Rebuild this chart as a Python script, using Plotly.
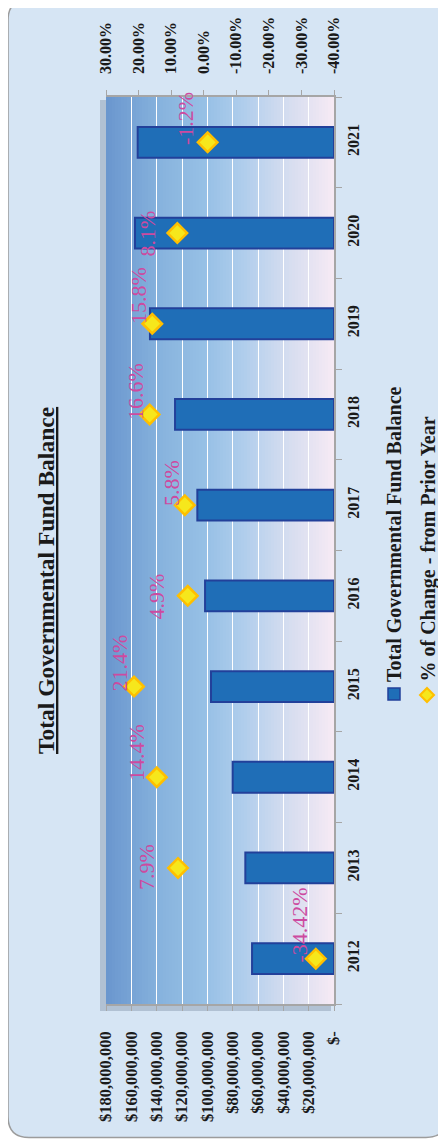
import plotly.graph_objects as go

# ---------------- data ----------------
years = [2012, 2013, 2014, 2015, 2016, 2017, 2018, 2019, 2020, 2021]
fund_balance = [64.7e6, 70.0e6, 80.0e6, 97.1e6, 101.8e6, 107.9e6, 125.5e6, 145.3e6, 157.1e6, 155.0e6]
pct_change = [-34.42, 7.9, 14.4, 21.4, 4.9, 5.8, 16.6, 15.8, 8.1, -1.2]
pct_labels = ["-34.42%", "7.9%", "14.4%", "21.4%", "4.9%", "5.8%", "16.6%", "15.8%", "8.1%", "-1.2%"]

dollar_ticks = [0, 20e6, 40e6, 60e6, 80e6, 100e6, 120e6, 140e6, 160e6, 180e6]
dollar_ticktext = ["$-", "$20,000,000", "$40,000,000", "$60,000,000", "$80,000,000",
                   "$100,000,000", "$120,000,000", "$140,000,000", "$160,000,000", "$180,000,000"]
pct_ticks = [30, 20, 10, 0, -10, -20, -30, -40]
pct_ticktext = ["30.00%", "20.00%", "10.00%", "0.00%", "-10.00%", "-20.00%", "-30.00%", "-40.00%"]

title_text = "Total Governmental Fund Balance"
legend_bar = "Total Governmental Fund Balance"
legend_pct = "% of Change - from Prior Year"

# label offsets (pixels) relative to each marker: (dx right, dy down)
label_offsets = [(-16, -34), (-31, -1), (-21, -25), (-14, -23), (-31, 1),
                 (-14, -22), (-14, -23), (-14, -28), (-30, 0), (-22, -24)]

# ---------------- geometry / style ----------------
W, H = 446, 1142
# page body adds 8px offset; plot area on screen spans x 106..334, y 97..1004
L, T = 98, 89
PW, PH = 228, 907
R, B = W - L - PW, H - T - PH
FONT = "Liberation Serif"
PINK = "#cd4aa0"


def px(sx):
    return (sx - 106) / PW


def py(sy):
    return (1004 - sy) / PH


fig = go.Figure()

fig.add_trace(go.Bar(
    x=fund_balance, y=years, orientation="h", width=0.34,
    marker=dict(color="#1f6eb7", line=dict(color="#22409a", width=2)),
    xaxis="x", yaxis="y", showlegend=False, hoverinfo="skip",
))

fig.add_trace(go.Scatter(
    x=pct_change, y=years, mode="markers",
    marker=dict(symbol="diamond", size=15, color="#f6e71c",
                line=dict(color="#ffbf00", width=2.5)),
    xaxis="x2", yaxis="y", showlegend=False, hoverinfo="skip",
))

shapes = []

# rounded chart frame
x0, x1, y0, y1, r = 8, 447, -0.5, 1137.5, 21
path = (f"M {px(x0 + r)},{py(y0)} L {px(x1 - r)},{py(y0)} "
        f"Q {px(x1)},{py(y0)} {px(x1)},{py(y0 + r)} "
        f"L {px(x1)},{py(y1 - r)} Q {px(x1)},{py(y1)} {px(x1 - r)},{py(y1)} "
        f"L {px(x0 + r)},{py(y1)} Q {px(x0)},{py(y1)} {px(x0)},{py(y1 - r)} "
        f"L {px(x0)},{py(y0 + r)} Q {px(x0)},{py(y0)} {px(x0 + r)},{py(y0)} Z")
shapes.append(dict(type="path", path=path, xref="paper", yref="paper",
                   fillcolor="#d6e5f4", line=dict(color="#9c9c9c", width=1.5), layer="below"))

# plot-area shadow
shapes.append(dict(type="rect", xref="paper", yref="paper",
                   x0=px(100), x1=px(331), y0=py(1011), y1=py(100),
                   fillcolor="rgba(110,125,150,0.35)", line=dict(width=0), layer="below"))

# gradient plot background (strips)
stops = [(0.0, (106, 150, 206)), (0.25, (136, 180, 222)), (0.45, (152, 193, 230)),
         (0.6, (175, 205, 236)), (0.75, (205, 218, 239)), (0.88, (226, 226, 241)),
         (1.0, (247, 234, 244))]


def grad(t):
    for (a, ca), (b, cb) in zip(stops[:-1], stops[1:]):
        if a <= t <= b:
            f = (t - a) / (b - a)
            return tuple(int(round(ca[i] + (cb[i] - ca[i]) * f)) for i in range(3))
    return stops[-1][1]


N = 76
for i in range(N):
    c = grad((i + 0.5) / N)
    shapes.append(dict(type="rect", xref="paper", yref="paper",
                       x0=i / N, x1=min((i + 1) / N + 0.002, 1), y0=0, y1=1,
                       fillcolor=f"rgb{c}", line=dict(width=0), layer="below"))

# legend symbols
shapes.append(dict(type="rect", xref="paper", yref="paper",
                   x0=px(388), x1=px(400), y0=py(700), y1=py(688),
                   fillcolor="#1f6eb7", line=dict(color="#22409a", width=1.5), layer="above"))
cx, cy, d = 427, 695, 7
shapes.append(dict(type="path", xref="paper", yref="paper",
                   path=(f"M {px(cx)},{py(cy - d)} L {px(cx + d)},{py(cy)} "
                         f"L {px(cx)},{py(cy + d)} L {px(cx - d)},{py(cy)} Z"),
                   fillcolor="#f6e71c", line=dict(color="#ffbf00", width=2), layer="above"))

annotations = []
annotations.append(dict(
    text=f"<b><u>{title_text}</u></b>", xref="paper", yref="paper",
    x=px(46), y=py(581), xanchor="center", yanchor="middle", textangle=-90,
    showarrow=False, font=dict(family=FONT, size=23.5, color="#1a1a1a"),
))
annotations.append(dict(
    text=f"<b>{legend_bar}</b>", xref="paper", yref="paper",
    x=px(394), y=py(684), xanchor="center", yanchor="bottom", textangle=-90,
    showarrow=False, font=dict(family=FONT, size=20, color="#1a1a1a"),
))
annotations.append(dict(
    text=f"<b>{legend_pct}</b>", xref="paper", yref="paper",
    x=px(428), y=py(684), xanchor="center", yanchor="bottom", textangle=-90,
    showarrow=False, font=dict(family=FONT, size=20, color="#1a1a1a"),
))
for yr, v, lab, (dx, dy) in zip(years, pct_change, pct_labels, label_offsets):
    annotations.append(dict(
        text=lab, xref="x2", yref="y", x=v, y=yr, xshift=dx, yshift=-dy,
        xanchor="center", yanchor="middle", textangle=-90, showarrow=False,
        font=dict(family=FONT, size=22, color=PINK),
    ))

tickfont = dict(family=FONT, size=16, color="#1a1a1a", weight="bold")

fig.update_layout(
    width=W, height=H, template="none",
    margin=dict(l=L, r=R, t=T, b=B, autoexpand=False),
    paper_bgcolor="white", plot_bgcolor="rgba(0,0,0,0)",
    showlegend=False,
    shapes=shapes, annotations=annotations,
    xaxis=dict(
        range=[180e6, 0], tickvals=dollar_ticks, ticktext=dollar_ticktext,
        tickangle=-90, tickfont=dict(tickfont, size=16.5), side="bottom", anchor="y",
        showgrid=True, gridcolor="white", gridwidth=1.2, zeroline=False,
        showline=True, linecolor="#a6a6a6", linewidth=1.5,
        ticks="outside", ticklen=5, tickcolor="#a6a6a6", automargin=False,
        ticklabelstandoff=14,
    ),
    xaxis2=dict(
        range=[30, -40], tickvals=pct_ticks, ticktext=pct_ticktext,
        tickangle=-90, tickfont=tickfont, side="top", overlaying="x", anchor="y",
        showgrid=False, zeroline=False,
        showline=True, linecolor="#a6a6a6", linewidth=1.5,
        ticks="outside", ticklen=5, tickcolor="#a6a6a6", automargin=False,
        ticklabelstandoff=13,
    ),
    yaxis=dict(
        range=[2011.5, 2021.5], tickvals=years, ticktext=[str(y) for y in years],
        tickangle=-90, tickfont=tickfont, side="right", anchor="x",
        showgrid=False, zeroline=False,
        showline=True, linecolor="#a6a6a6", linewidth=1.5,
        ticks="", automargin=False, ticklabelstandoff=4,
        minor=dict(tickvals=[y + 0.5 for y in years[:-1]] + [2011.5, 2021.5],
                   ticks="outside", ticklen=6, tickcolor="#a6a6a6", showgrid=False),
    ),
)

fig.write_html("out.html")
